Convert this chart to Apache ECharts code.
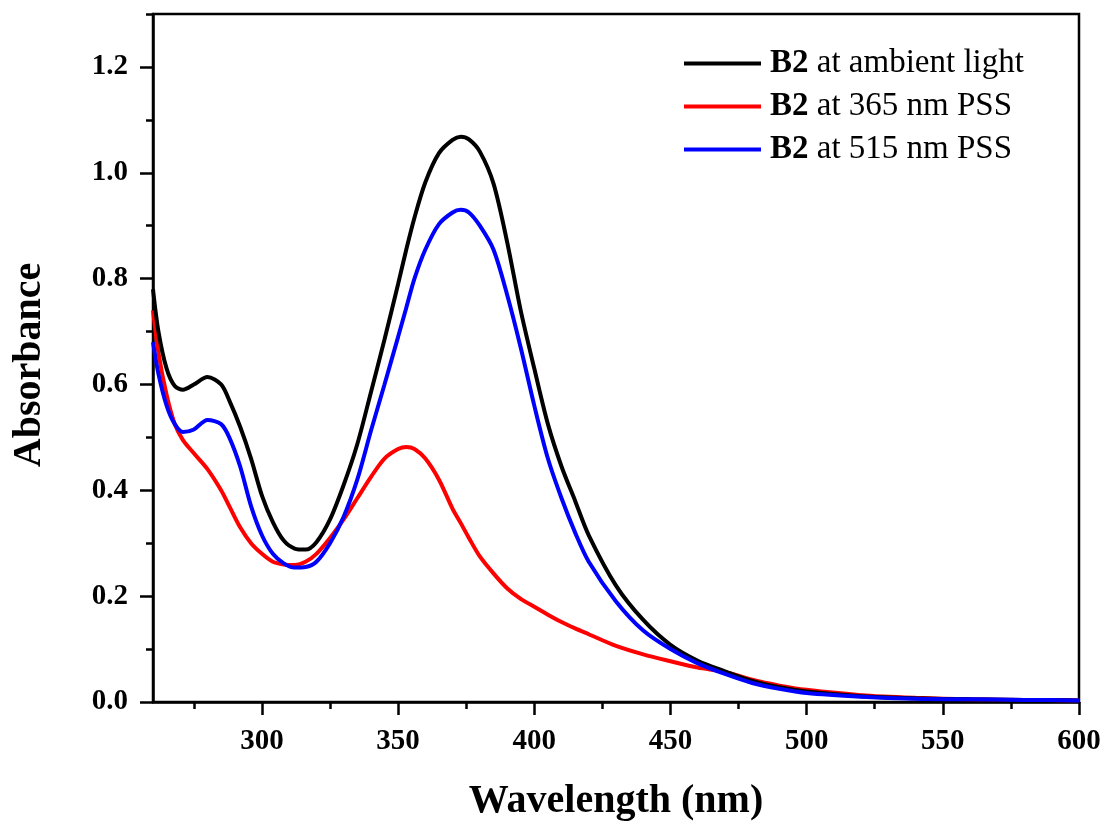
<!DOCTYPE html>
<html>
<head>
<meta charset="utf-8">
<script src="https://cdn.jsdelivr.net/npm/echarts@6/dist/echarts.min.js"></script>
<style>
html,body{margin:0;padding:0;background:#fff;}
#chart{width:1107px;height:825px;}
</style>
</head>
<body>
<div id="chart"></div>
<script>
// Wavelength (nm)
const wavelength = [260,262,265,268,271,275,280,285,288,292,296,300,304,308,312,316,320,325,330,335,340,345,350,353,356,360,365,370,373,376,380,385,390,395,400,405,410,415,420,430,440,450,460,470,480,490,500,520,540,560,580,600];
// Absorbance values
const ambient = [0.78,0.70,0.63,0.597,0.59,0.60,0.614,0.60,0.57,0.52,0.46,0.39,0.34,0.305,0.29,0.288,0.302,0.345,0.41,0.487,0.585,0.685,0.79,0.855,0.915,0.982,1.037,1.062,1.068,1.063,1.04,0.98,0.87,0.74,0.63,0.525,0.445,0.38,0.315,0.22,0.155,0.108,0.078,0.058,0.04,0.028,0.02,0.011,0.007,0.005,0.004,0.003];
const pss365 = [0.74,0.66,0.58,0.525,0.495,0.47,0.44,0.40,0.37,0.33,0.30,0.28,0.265,0.26,0.259,0.265,0.28,0.31,0.345,0.385,0.425,0.46,0.478,0.482,0.478,0.46,0.42,0.365,0.338,0.31,0.275,0.243,0.215,0.195,0.18,0.165,0.151,0.139,0.128,0.106,0.09,0.077,0.065,0.057,0.042,0.031,0.023,0.013,0.008,0.005,0.004,0.003];
const pss515 = [0.68,0.62,0.56,0.525,0.51,0.515,0.533,0.525,0.50,0.445,0.37,0.315,0.28,0.262,0.254,0.255,0.265,0.30,0.35,0.42,0.512,0.60,0.69,0.745,0.80,0.855,0.903,0.925,0.93,0.925,0.90,0.855,0.77,0.67,0.56,0.46,0.385,0.32,0.265,0.19,0.135,0.10,0.073,0.053,0.036,0.025,0.017,0.01,0.006,0.005,0.004,0.003];
const seriesNames = ['B2 at ambient light','B2 at 365 nm PSS','B2 at 515 nm PSS'];
const xMajor = [300,350,400,450,500,550,600];
const xMinor = [275,325,375,425,475,525,575];
const yMajor = [0,0.2,0.4,0.6,0.8,1.0,1.2];
const yMinor = [0.1,0.3,0.5,0.7,0.9,1.1,1.3];

const FONT = '"Liberation Serif","Times New Roman",serif';
const pair = arr => wavelength.map((w,i)=>[w,arr[i]]);
const chart = echarts.init(document.getElementById('chart'));
const tickStyle = {color:'#000', width:2.5};
chart.setOption({
  backgroundColor:'#fff',
  animation:false,
  grid:{left:153,right:28,top:14,bottom:123,show:true,borderColor:'#000',borderWidth:2.5,backgroundColor:'transparent',
    containLabel:false,outerBoundsMode:'none'},
  legend:{
    orient:'vertical', left:684, top:47, padding:0, itemWidth:77, itemHeight:4, itemGap:10, icon:'rect',
    data:seriesNames,
    formatter: n => n.replace('B2','{b|B2}'),
    textStyle:{fontFamily:FONT,fontSize:33,color:'#000',lineHeight:33,padding:[0,0,0,4],
      rich:{b:{fontFamily:FONT,fontSize:33,fontWeight:'bold',color:'#000',lineHeight:33}}}
  },
  xAxis:[{
    type:'value', min:260, max:600,
    name:'Wavelength (nm)', nameLocation:'middle', nameGap:80,
    nameTextStyle:{fontFamily:FONT,fontSize:40,fontWeight:'bold',color:'#000'},
    axisLine:{show:true,onZero:false,lineStyle:{color:'#000',width:2.5}},
    axisTick:{show:true,length:13,lineStyle:tickStyle,customValues:xMajor},
    axisLabel:{fontFamily:FONT,fontSize:29,fontWeight:'bold',color:'#000',margin:25,customValues:xMajor},
    splitLine:{show:false}
  },{
    type:'value', min:260, max:600, position:'bottom', offset:0,
    axisLine:{show:false},
    axisTick:{show:true,length:7,lineStyle:tickStyle,customValues:xMinor},
    axisLabel:{show:false},
    splitLine:{show:false}
  }],
  yAxis:[{
    type:'value', min:0, max:1.3,
    name:'Absorbance', nameLocation:'middle', nameGap:103,
    nameTextStyle:{fontFamily:FONT,fontSize:40,fontWeight:'bold',color:'#000',padding:[0,14,0,0]},
    axisLine:{show:true,onZero:false,lineStyle:{color:'#000',width:2.5}},
    axisTick:{show:true,length:13,lineStyle:tickStyle,customValues:yMajor},
    axisLabel:{fontFamily:FONT,fontSize:29,fontWeight:'bold',color:'#000',margin:25,customValues:yMajor,
      formatter:v=>v.toFixed(1)},
    splitLine:{show:false}
  },{
    type:'value', min:0, max:1.3, position:'left', offset:0,
    axisLine:{show:false},
    axisTick:{show:true,length:7,lineStyle:tickStyle,customValues:yMinor},
    axisLabel:{show:false},
    splitLine:{show:false}
  }],
  series:[
    {name:seriesNames[0],type:'line',data:pair(ambient),showSymbol:false,symbol:'none',smooth:0.3,color:'#000000',lineStyle:{color:'#000000',width:4},z:3},
    {name:seriesNames[1],type:'line',data:pair(pss365),showSymbol:false,symbol:'none',smooth:0.3,color:'#ff0000',lineStyle:{color:'#ff0000',width:4},z:2},
    {name:seriesNames[2],type:'line',data:pair(pss515),showSymbol:false,symbol:'none',smooth:0.3,color:'#0000ff',lineStyle:{color:'#0000ff',width:4},z:4}
  ]
});
</script>
</body>
</html>
